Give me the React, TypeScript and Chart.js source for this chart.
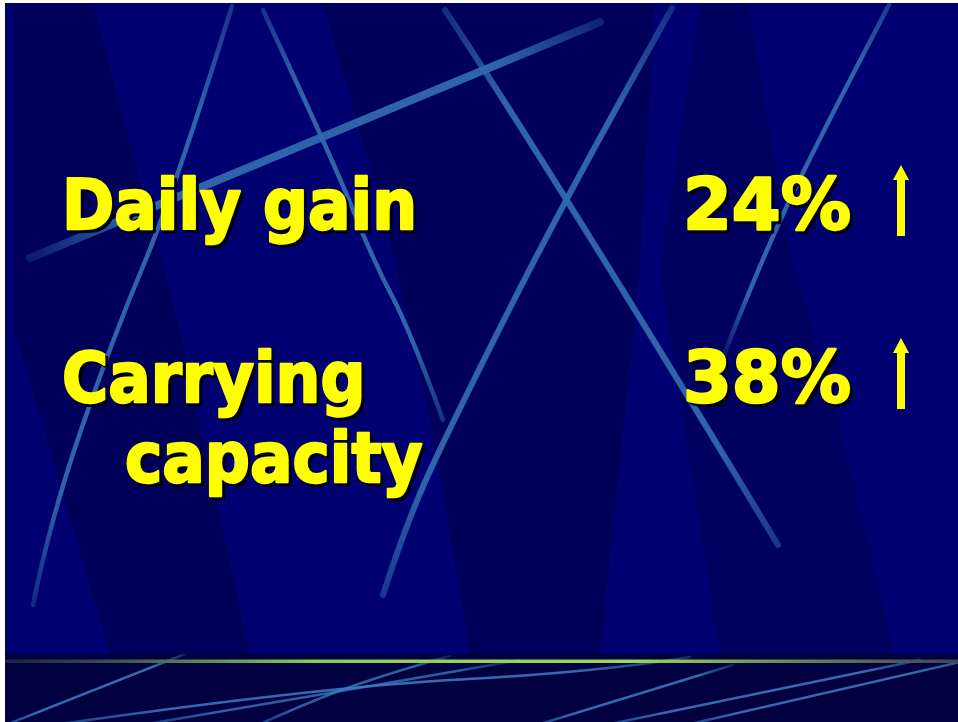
import React, { useEffect, useRef } from "react";
import { Chart, registerables } from "chart.js";

Chart.register(...registerables);

// ---- data ----
const ROW_LABELS = ["Daily gain", "Carrying capacity"];
const LABEL_LINES = [["Daily gain"], ["Carrying", "capacity"]];
const VALUES = [24, 38];
const VALUE_SUFFIX = "%";
const TRENDS = ["up", "up"];

const W = 953;
const H = 719;
const OX = 5;
const OY = 3;

type P = [number, number];

function strokeCurve(ctx: CanvasRenderingContext2D, pts: P[], width: number, a0: number, a1: number, color = "48,105,175", alpha = 0.95) {
  const s = pts[0];
  const e = pts[pts.length - 1];
  const g = ctx.createLinearGradient(s[0], s[1], e[0], e[1]);
  g.addColorStop(0, `rgba(${color},${alpha * a0})`);
  g.addColorStop(0.18, `rgba(${color},${alpha})`);
  g.addColorStop(0.82, `rgba(${color},${alpha})`);
  g.addColorStop(1, `rgba(${color},${alpha * a1})`);
  ctx.strokeStyle = g;
  ctx.lineWidth = width;
  ctx.lineCap = "round";
  ctx.beginPath();
  ctx.moveTo(s[0], s[1]);
  if (pts.length === 2) {
    ctx.lineTo(e[0], e[1]);
  } else {
    for (let i = 1; i < pts.length - 1; i++) {
      const mx = (pts[i][0] + pts[i + 1][0]) / 2;
      const my = (pts[i][1] + pts[i + 1][1]) / 2;
      if (i === pts.length - 2) {
        ctx.quadraticCurveTo(pts[i][0], pts[i][1], e[0], e[1]);
      } else {
        ctx.quadraticCurveTo(pts[i][0], pts[i][1], mx, my);
      }
    }
  }
  ctx.stroke();
}

function poly(ctx: CanvasRenderingContext2D, pts: P[], fill: string) {
  ctx.fillStyle = fill;
  ctx.beginPath();
  ctx.moveTo(pts[0][0], pts[0][1]);
  for (let i = 1; i < pts.length; i++) ctx.lineTo(pts[i][0], pts[i][1]);
  ctx.closePath();
  ctx.fill();
}

const backgroundPlugin = {
  id: "slideBackground",
  beforeDraw(chart: any) {
    const ctx: CanvasRenderingContext2D = chart.ctx;
    ctx.save();
    ctx.translate(-OX, -OY);
    // base
    ctx.fillStyle = "rgb(0,0,112)";
    ctx.fillRect(OX, OY, W, H);
    // dark bands
    const dark = "rgba(0,0,40,0.28)";
    poly(ctx, [[14, 3], [93, 3], [180, 330], [250, 654], [110, 654], [14, 330]], dark);
    poly(ctx, [[322, 3], [655, 3], [640, 270], [600, 654], [470, 654], [430, 420], [380, 200]], dark);
    poly(ctx, [[700, 3], [748, 3], [790, 250], [840, 430], [895, 654], [720, 654], [660, 270]], "rgba(0,0,40,0.2)");
    // light lines
    strokeCurve(ctx, [[30, 258], [600, 22]], 8, 0.25, 0.35);
    strokeCurve(ctx, [[445, 10], [567, 195], [778, 545]], 6, 0.45, 0.55);
    strokeCurve(ctx, [[672, 8], [567, 195], [457, 413], [407, 520], [383, 595]], 6, 0.45, 0.55);
    strokeCurve(ctx, [[263, 10], [333, 160], [373, 260], [410, 330], [443, 420]], 4.5, 0.5, 0.5);
    strokeCurve(ctx, [[232, 6], [175, 190], [112, 340], [50, 520], [33, 605]], 4.5, 0.5, 0.4);
    strokeCurve(ctx, [[889, 5], [813, 150], [757, 270], [722, 360]], 4.5, 0.6, 0.15);
    // bottom strip
    ctx.fillStyle = "rgb(0,0,64)";
    ctx.fillRect(OX, 654, W, 722 - 654);
    ctx.save();
    ctx.beginPath();
    ctx.rect(OX, 654, W, 722 - 654);
    ctx.clip();
    const bc = "60,125,195";
    strokeCurve(ctx, [[8, 724], [100, 688], [185, 654]], 2.5, 0.6, 0.3, bc, 0.85);
    strokeCurve(ctx, [[60, 724], [320, 687], [600, 672], [690, 657]], 2.5, 0.6, 0.4, bc, 0.85);
    strokeCurve(ctx, [[147, 724], [320, 695], [450, 672], [520, 660]], 2.5, 0.6, 0.3, bc, 0.75);
    strokeCurve(ctx, [[260, 724], [320, 697], [400, 670], [450, 656]], 2.5, 0.6, 0.3, bc, 0.75);
    strokeCurve(ctx, [[540, 724], [733, 665]], 2.5, 0.6, 0.3, bc, 0.85);
    strokeCurve(ctx, [[610, 724], [920, 660]], 2.5, 0.6, 0.5, bc, 0.85);
    strokeCurve(ctx, [[690, 724], [960, 662]], 2.5, 0.6, 0.8, bc, 0.85);
    ctx.restore();
    // green rule
    const gg = ctx.createLinearGradient(OX, 0, 958, 0);
    gg.addColorStop(0, "rgb(20,35,70)");
    gg.addColorStop(0.1, "rgb(55,75,75)");
    gg.addColorStop(0.33, "rgb(145,205,85)");
    gg.addColorStop(0.66, "rgb(155,215,85)");
    gg.addColorStop(0.82, "rgb(105,140,80)");
    gg.addColorStop(1, "rgb(60,70,85)");
    ctx.fillStyle = gg;
    ctx.fillRect(OX, 659.5, W, 3.5);
    ctx.restore();
  },
};

function boldText(ctx: CanvasRenderingContext2D, txt: string, x: number, y: number, sx: number) {
  // shadow pass
  ctx.save();
  ctx.translate(x + 3, y + 3);
  ctx.scale(sx, 1);
  ctx.fillStyle = "rgba(0,0,8,0.9)";
  ctx.strokeStyle = "rgba(0,0,8,0.9)";
  ctx.fillText(txt, 0, 0);
  ctx.strokeText(txt, 0, 0);
  ctx.restore();
  // main pass
  ctx.save();
  ctx.translate(x, y);
  ctx.scale(sx, 1);
  ctx.fillStyle = "#FFFF00";
  ctx.strokeStyle = "#FFFF00";
  ctx.fillText(txt, 0, 0);
  ctx.strokeText(txt, 0, 0);
  ctx.restore();
}

const textPlugin = {
  id: "slideText",
  afterDatasetsDraw(chart: any) {
    const ctx: CanvasRenderingContext2D = chart.ctx;
    const yScale = chart.scales.y;
    const left = chart.chartArea.left;
    const values = chart.data.datasets[0].data as { x: number; y: number }[];
    ctx.save();
    ctx.textBaseline = "alphabetic";
    ctx.textAlign = "left";
    ctx.lineWidth = 2.4;
    ctx.lineJoin = "round";
    values.forEach((pt, i) => {
      const rowY = yScale.getPixelForValue(i);
      ctx.font = 'bold 70px "DejaVu Sans", Verdana, sans-serif';
      LABEL_LINES[i].forEach((ln, j) => {
        boldText(ctx, ln, left + (j > 0 ? 63 : 0), rowY + j * 80, 0.9);
      });
      ctx.font = 'bold 72px "DejaVu Sans", Verdana, sans-serif';
      boldText(ctx, `${pt.x}${VALUE_SUFFIX}`, left + 621, rowY, 0.975);
      // arrow
      const cx = left + 839;
      const dir = TRENDS[i] === "up" ? 1 : -1;
      const tip = rowY + (dir > 0 ? -64 : 7);
      const tail = rowY + (dir > 0 ? 7 : -64);
      const headBase = tip + dir * 15;
      ctx.fillStyle = "#FFFF00";
      ctx.beginPath();
      ctx.moveTo(cx, tip);
      ctx.lineTo(cx + 8, headBase);
      ctx.lineTo(cx + 4, headBase);
      ctx.lineTo(cx + 4, tail);
      ctx.lineTo(cx - 4, tail);
      ctx.lineTo(cx - 4, headBase);
      ctx.lineTo(cx - 8, headBase);
      ctx.closePath();
      ctx.fill();
    });
    ctx.restore();
  },
};

export default function App() {
  const ref = useRef<HTMLCanvasElement | null>(null);
  useEffect(() => {
    if (!ref.current) return;
    const chart = new Chart(ref.current, {
      type: "scatter",
      data: {
        labels: ROW_LABELS,
        datasets: [
          {
            label: "Change",
            data: VALUES.map((v, i) => ({ x: v, y: i })),
            pointRadius: 0,
            pointHoverRadius: 0,
            showLine: false,
          },
        ],
      },
      options: {
        responsive: false,
        animation: false,
        events: [],
        layout: { padding: { top: 226, bottom: H - 399, left: 57, right: 20 } },
        plugins: { legend: { display: false }, tooltip: { enabled: false } },
        scales: {
          x: { type: "linear", display: false, min: 0, max: 100 },
          y: { type: "category", labels: ROW_LABELS, display: false, offset: false },
        },
      },
      plugins: [backgroundPlugin, textPlugin],
    });
    return () => chart.destroy();
  }, []);
  return (
    <div style={{ position: "absolute", left: OX, top: OY, width: W, height: H }}>
      <canvas ref={ref} width={W} height={H} style={{ display: "block" }} />
    </div>
  );
}
